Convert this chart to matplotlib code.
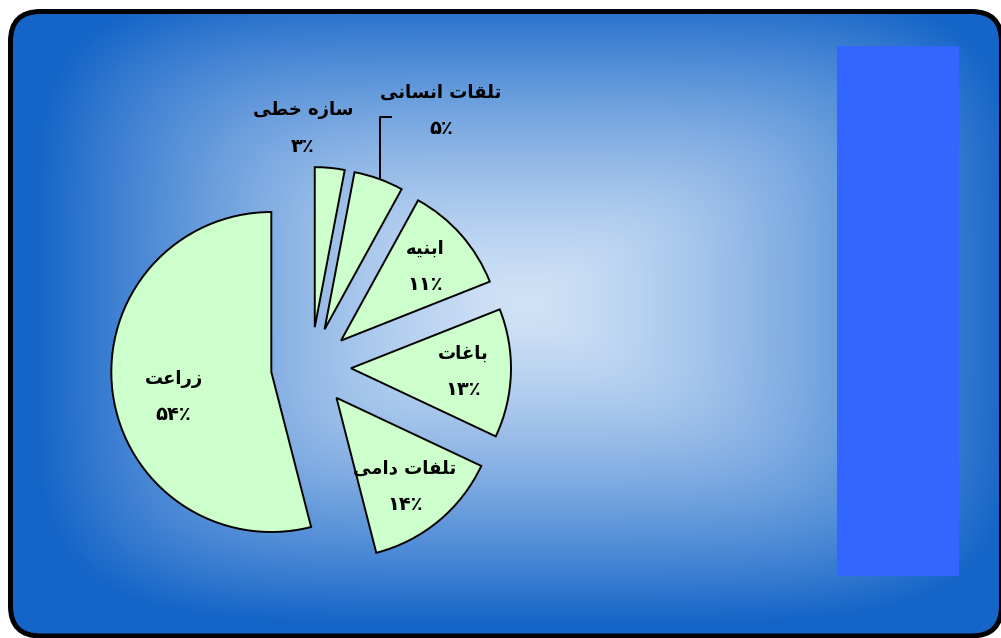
import numpy as np
import matplotlib.pyplot as plt
from matplotlib.patches import FancyBboxPatch, Rectangle

# سهم خسارت به تفکیک بخش
names = ['زراعت', 'تلفات دامی', 'باغات', 'ابنیه', 'تلقات انسانی', 'سازه خطی']
shares = [54, 14, 13, 11, 5, 3]

# presentation forms: (isolated, final, initial, medial); two entries = joins on right only
FORMS = {
    'ا': ('\uFE8D', '\uFE8E'),
    'ب': ('\uFE8F', '\uFE90', '\uFE91', '\uFE92'),
    'ت': ('\uFE95', '\uFE96', '\uFE97', '\uFE98'),
    'خ': ('\uFEA5', '\uFEA6', '\uFEA7', '\uFEA8'),
    'د': ('\uFEA9', '\uFEAA'),
    'ر': ('\uFEAD', '\uFEAE'),
    'ز': ('\uFEAF', '\uFEB0'),
    'س': ('\uFEB1', '\uFEB2', '\uFEB3', '\uFEB4'),
    'ط': ('\uFEC1', '\uFEC2', '\uFEC3', '\uFEC4'),
    'ع': ('\uFEC9', '\uFECA', '\uFECB', '\uFECC'),
    'غ': ('\uFECD', '\uFECE', '\uFECF', '\uFED0'),
    'ف': ('\uFED1', '\uFED2', '\uFED3', '\uFED4'),
    'ق': ('\uFED5', '\uFED6', '\uFED7', '\uFED8'),
    'ل': ('\uFEDD', '\uFEDE', '\uFEDF', '\uFEE0'),
    'م': ('\uFEE1', '\uFEE2', '\uFEE3', '\uFEE4'),
    'ن': ('\uFEE5', '\uFEE6', '\uFEE7', '\uFEE8'),
    'ه': ('\uFEE9', '\uFEEA', '\uFEEB', '\uFEEC'),
    'ی': ('\uFBFC', '\uFBFD', '\uFBFE', '\uFBFF'),
}


def shape(text):
    # matplotlib has no arabic shaping, so pick the joined forms by hand
    out = []
    for i, ch in enumerate(text):
        if ch not in FORMS:
            out.append(ch)
            continue
        prev = text[i - 1] if i > 0 else ''
        nxt = text[i + 1] if i + 1 < len(text) else ''
        jp = prev in FORMS and len(FORMS[prev]) == 4
        jn = len(FORMS[ch]) == 4 and nxt in FORMS
        f = FORMS[ch]
        if jp and jn:
            out.append(f[3])
        elif jp:
            out.append(f[1])
        elif jn:
            out.append(f[2])
        else:
            out.append(f[0])
    return ''.join(reversed(out))


def fa_pct(v):
    return str(v).translate(str.maketrans('0123456789', '۰۱۲۳۴۵۶۷۸۹')) + '٪'


W, H = 1001, 638
fig = plt.figure(figsize=(W / 100, H / 100), dpi=100)
fig.patch.set_facecolor('white')
ax = fig.add_axes([0, 0, 1, 1])
ax.set_xlim(0, W)
ax.set_ylim(0, H)
ax.set_aspect('equal')
ax.axis('off')

# rounded chart area with a centre-out gradient
frame = FancyBboxPatch((10.5, 2), 991, 624.5, boxstyle='round,pad=0,rounding_size=30',
                       facecolor='none', edgecolor='black', lw=3.6, zorder=3)
ax.add_patch(frame)
xx, yy = np.meshgrid(np.arange(0, W), np.arange(0, H))
p = 5.0
t = ((np.abs(xx - 525) / 490) ** p + (np.abs(yy - 333) / 318) ** p) ** (1 / p)
t = np.clip(t, 0, 1) ** 1.4
light = np.array([208, 226, 246]) / 255
dark = np.array([21, 101, 200]) / 255
grad = light + (dark - light) * t[..., None]
im = ax.imshow(grad, extent=(0, W, 0, H), origin='lower', zorder=1)
im.set_clip_path(frame)

# empty legend box
ax.add_patch(Rectangle((837, 62), 122, 530, facecolor='#3366FF', edgecolor='none', zorder=2))

radius = 160
wedges, _ = ax.pie(shares, startangle=90, counterclock=True, radius=radius,
                   center=(311, 271), explode=[0.25 * radius] * len(shares), frame=True,
                   wedgeprops=dict(facecolor='#CCFFCC', edgecolor='black', lw=1.4, zorder=4))
ax.set_xlim(0, W)
ax.set_ylim(0, H)
ax.axis('off')

font = dict(family=['DejaVu Sans'], fontweight='bold', color='black', zorder=5,
            ha='center', va='center')
# label placement inside the wedge: (fraction of radius, angle shift in degrees)
inner_place = [(0.63, 7), (0.7, -2), (0.7, 0), (0.7, 0)]
outer_pos = {4: (441, 527), 5: (303, 510)}

for i, (w, name, v) in enumerate(zip(wedges, names, shares)):
    cx, cy = w.center
    if i in outer_pos:
        lx, ly = outer_pos[i]
    else:
        d, shift = inner_place[i]
        mid = np.deg2rad((w.theta1 + w.theta2) / 2 + shift)
        lx = cx + d * radius * np.cos(mid)
        ly = cy + d * radius * np.sin(mid)
    ax.text(lx, ly + 18, shape(name), fontsize=13, **font)
    ax.text(lx, ly - 18, fa_pct(v), fontsize=14, **font)

# leader line for the small slice
cx, cy = wedges[4].center
x0 = 380
y0 = cy + np.sqrt(radius ** 2 - (x0 - cx) ** 2)
ax.plot([x0, x0, 391], [y0, 521, 521], color='black', lw=1.4, zorder=5)

fig.savefig('out.png', dpi=100)
